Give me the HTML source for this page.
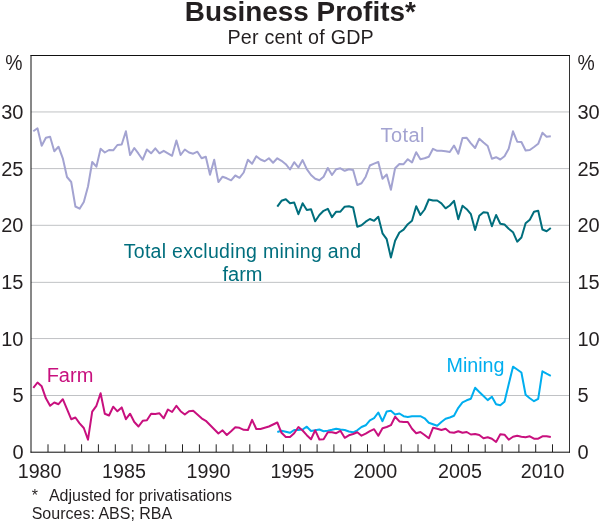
<!DOCTYPE html>
<html><head><meta charset="utf-8"><title>Business Profits</title>
<style>
html,body{margin:0;padding:0;background:#fff}
svg{display:block;font-family:"Liberation Sans",sans-serif}
</style></head><body>
<svg width="600" height="524" viewBox="0 0 600 524">
<rect width="600" height="524" fill="#fff"/>
<g stroke="#c0c2c5" stroke-width="1" fill="none"><line x1="31" x2="569.5" y1="395.5" y2="395.5"/><line x1="31" x2="569.5" y1="338.55" y2="338.55"/><line x1="31" x2="569.5" y1="282.35" y2="282.35"/><line x1="31" x2="569.5" y1="225.3" y2="225.3"/><line x1="31" x2="569.5" y1="168.6" y2="168.6"/><line x1="31" x2="569.5" y1="111.95" y2="111.95"/></g>
<g fill="none" stroke-linejoin="round" stroke-linecap="butt" stroke-width="2">
<path stroke="#a3a3d1" d="M33.3,131.3 L37.5,128.3 L41.7,145.8 L45.9,137.8 L50.1,136.7 L54.3,151.2 L58.5,146.7 L62.8,158.3 L67.0,177.0 L71.2,182.0 L75.4,206.5 L79.6,208.7 L83.8,202.0 L88.0,186.5 L92.2,162.0 L96.4,166.7 L100.6,148.7 L104.8,152.5 L109.0,150.0 L113.2,150.3 L117.4,145.0 L121.7,144.5 L125.9,131.3 L130.1,155.0 L134.3,148.0 L138.5,153.7 L142.7,159.7 L146.9,149.5 L151.1,153.3 L155.3,148.3 L159.5,153.3 L163.7,150.8 L167.9,153.3 L172.1,155.8 L176.4,140.5 L180.6,155.0 L184.8,149.5 L189.0,152.5 L193.2,153.7 L197.4,151.7 L201.6,158.3 L205.8,156.7 L210.0,174.8 L214.2,159.7 L218.4,182.1 L222.6,176.7 L226.8,178.3 L231.1,180.3 L235.3,175.5 L239.5,177.8 L243.7,172.5 L247.9,159.7 L252.1,163.8 L256.3,156.2 L260.5,159.5 L264.7,161.2 L268.9,158.3 L273.1,162.8 L277.3,158.3 L281.5,160.8 L285.8,164.2 L290.0,169.5 L294.2,162.2 L298.4,167.5 L302.6,160.1 L306.8,169.2 L311.0,175.0 L315.2,178.8 L319.4,180.3 L323.6,176.7 L327.8,168.0 L332.0,175.0 L336.2,169.2 L340.4,168.3 L344.7,170.8 L348.9,169.2 L353.1,170.0 L357.3,185.0 L361.5,183.3 L365.7,176.7 L369.9,165.5 L374.1,163.7 L378.3,162.0 L382.5,178.7 L386.7,174.5 L390.9,189.7 L395.1,168.2 L399.4,164.0 L403.6,164.2 L407.8,159.2 L412.0,162.5 L416.2,152.2 L420.4,159.2 L424.6,158.3 L428.8,156.7 L433.0,148.8 L437.2,150.8 L441.4,150.8 L445.6,151.3 L449.8,152.0 L454.0,145.5 L458.3,153.8 L462.5,138.0 L466.7,137.8 L470.9,143.3 L475.1,148.0 L479.3,138.7 L483.5,142.5 L487.7,146.0 L491.9,158.8 L496.1,157.2 L500.3,159.5 L504.5,156.3 L508.7,148.7 L513.0,131.3 L517.2,141.7 L521.4,142.0 L525.6,150.5 L529.8,150.0 L534.0,147.0 L538.2,143.8 L542.4,132.8 L546.6,136.7 L550.8,136.2"/>
<path stroke="#006e7d" d="M277.3,206.7 L281.5,200.8 L285.8,199.2 L290.0,203.3 L294.2,202.5 L298.4,214.2 L302.6,203.3 L306.8,210.0 L311.0,209.2 L315.2,221.3 L319.4,215.0 L323.6,210.8 L327.8,208.8 L332.0,217.2 L336.2,211.7 L340.4,211.7 L344.7,206.7 L348.9,206.2 L353.1,207.5 L357.3,226.7 L361.5,225.2 L365.7,221.7 L369.9,219.0 L374.1,220.8 L378.3,216.7 L382.5,233.3 L386.7,239.2 L390.9,257.5 L395.1,240.8 L399.4,232.5 L403.6,229.7 L407.8,224.2 L412.0,220.8 L416.2,206.3 L420.4,215.0 L424.6,209.5 L428.8,199.5 L433.0,200.5 L437.2,200.5 L441.4,203.3 L445.6,208.3 L449.8,205.5 L454.0,200.8 L458.3,219.2 L462.5,205.8 L466.7,209.2 L470.9,214.2 L475.1,230.0 L479.3,215.8 L483.5,212.2 L487.7,212.8 L491.9,226.2 L496.1,215.0 L500.3,223.8 L504.5,224.5 L508.7,228.7 L513.0,232.2 L517.2,241.7 L521.4,237.5 L525.6,223.3 L529.8,219.7 L534.0,211.7 L538.2,210.8 L542.4,229.5 L546.6,231.2 L550.8,228.0"/>
<path stroke="#00aeef" d="M277.3,432.0 L281.5,430.7 L285.8,431.7 L290.0,432.8 L294.2,430.0 L298.4,430.0 L302.6,429.5 L306.8,426.7 L311.0,431.0 L315.2,430.3 L319.4,429.5 L323.6,431.2 L327.8,430.7 L332.0,429.8 L336.2,428.7 L340.4,429.5 L344.7,430.0 L348.9,431.5 L353.1,432.3 L357.3,430.3 L361.5,427.0 L365.7,425.3 L369.9,420.3 L374.1,418.2 L378.3,412.5 L382.5,421.2 L386.7,411.5 L390.9,410.8 L395.1,414.5 L399.4,413.5 L403.6,416.2 L407.8,417.0 L412.0,416.2 L416.2,416.2 L420.4,416.2 L424.6,418.3 L428.8,422.8 L433.0,424.2 L437.2,425.8 L441.4,422.0 L445.6,418.7 L449.8,417.5 L454.0,415.8 L458.3,407.8 L462.5,402.3 L466.7,400.3 L470.9,398.7 L475.1,387.8 L479.3,392.0 L483.5,396.0 L487.7,400.1 L491.9,396.7 L496.1,404.2 L500.3,405.3 L504.5,401.7 L508.7,384.2 L513.0,366.7 L517.2,369.5 L521.4,372.5 L525.6,394.7 L529.8,398.3 L534.0,401.2 L538.2,398.8 L542.4,371.3 L546.6,373.7 L550.8,375.8"/>
<path stroke="#c8107e" d="M33.3,387.8 L37.5,382.5 L41.7,386.3 L45.9,398.3 L50.1,405.8 L54.3,402.5 L58.5,404.2 L62.8,399.2 L67.0,409.2 L71.2,419.2 L75.4,417.5 L79.6,423.3 L83.8,428.0 L88.0,439.7 L92.2,411.7 L96.4,405.8 L100.6,393.3 L104.8,413.8 L109.0,415.5 L113.2,406.7 L117.4,411.3 L121.7,407.4 L125.9,419.2 L130.1,413.7 L134.3,422.0 L138.5,426.5 L142.7,420.8 L146.9,420.3 L151.1,413.7 L155.3,414.0 L159.5,413.3 L163.7,418.3 L167.9,409.5 L172.1,412.0 L176.4,405.8 L180.6,411.2 L184.8,414.5 L189.0,411.2 L193.2,410.8 L197.4,414.5 L201.6,418.3 L205.8,420.8 L210.0,425.0 L214.2,429.2 L218.4,433.5 L222.6,430.3 L226.8,435.0 L231.1,431.2 L235.3,427.3 L239.5,427.8 L243.7,429.8 L247.9,430.0 L252.1,419.8 L256.3,429.0 L260.5,429.0 L264.7,427.8 L268.9,426.5 L273.1,424.5 L277.3,422.5 L281.5,432.8 L285.8,437.0 L290.0,437.0 L294.2,433.2 L298.4,427.0 L302.6,430.5 L306.8,435.2 L311.0,439.2 L315.2,430.3 L319.4,439.5 L323.6,439.2 L327.8,432.3 L332.0,432.3 L336.2,433.2 L340.4,430.8 L344.7,437.8 L348.9,435.3 L353.1,434.0 L357.3,432.3 L361.5,435.7 L365.7,433.7 L369.9,431.2 L374.1,429.2 L378.3,435.8 L382.5,428.2 L386.7,427.0 L390.9,425.2 L395.1,416.7 L399.4,421.4 L403.6,422.0 L407.8,422.0 L412.0,428.7 L416.2,433.2 L420.4,432.0 L424.6,435.0 L428.8,438.3 L433.0,427.8 L437.2,428.7 L441.4,430.0 L445.6,428.7 L449.8,432.3 L454.0,432.8 L458.3,431.2 L462.5,432.8 L466.7,432.0 L470.9,434.5 L475.1,434.0 L479.3,435.0 L483.5,438.3 L487.7,437.2 L491.9,438.7 L496.1,442.0 L500.3,434.2 L504.5,434.7 L508.7,439.7 L513.0,436.7 L517.2,435.8 L521.4,436.7 L525.6,437.2 L529.8,436.3 L534.0,438.7 L538.2,438.7 L542.4,436.3 L546.6,436.2 L550.8,437.0"/>
</g>
<g stroke="#222" stroke-width="1" fill="none"><line x1="48.0" x2="48.0" y1="444.3" y2="452"/><line x1="64.8" x2="64.8" y1="444.3" y2="452"/><line x1="81.6" x2="81.6" y1="444.3" y2="452"/><line x1="98.4" x2="98.4" y1="444.3" y2="452"/><line x1="115.3" x2="115.3" y1="444.3" y2="452"/><line x1="132.1" x2="132.1" y1="444.3" y2="452"/><line x1="148.9" x2="148.9" y1="444.3" y2="452"/><line x1="165.7" x2="165.7" y1="444.3" y2="452"/><line x1="182.5" x2="182.5" y1="444.3" y2="452"/><line x1="199.4" x2="199.4" y1="444.3" y2="452"/><line x1="216.2" x2="216.2" y1="444.3" y2="452"/><line x1="233.0" x2="233.0" y1="444.3" y2="452"/><line x1="249.8" x2="249.8" y1="444.3" y2="452"/><line x1="266.6" x2="266.6" y1="444.3" y2="452"/><line x1="283.4" x2="283.4" y1="444.3" y2="452"/><line x1="300.3" x2="300.3" y1="444.3" y2="452"/><line x1="317.1" x2="317.1" y1="444.3" y2="452"/><line x1="333.9" x2="333.9" y1="444.3" y2="452"/><line x1="350.7" x2="350.7" y1="444.3" y2="452"/><line x1="367.5" x2="367.5" y1="444.3" y2="452"/><line x1="384.3" x2="384.3" y1="444.3" y2="452"/><line x1="401.2" x2="401.2" y1="444.3" y2="452"/><line x1="418.0" x2="418.0" y1="444.3" y2="452"/><line x1="434.8" x2="434.8" y1="444.3" y2="452"/><line x1="451.6" x2="451.6" y1="444.3" y2="452"/><line x1="468.4" x2="468.4" y1="444.3" y2="452"/><line x1="485.2" x2="485.2" y1="444.3" y2="452"/><line x1="502.1" x2="502.1" y1="444.3" y2="452"/><line x1="518.9" x2="518.9" y1="444.3" y2="452"/><line x1="535.7" x2="535.7" y1="444.3" y2="452"/><line x1="552.5" x2="552.5" y1="444.3" y2="452"/></g>
<line x1="31" x2="31" y1="55" y2="452.5" stroke="#111" stroke-width="1"/>
<line x1="569.5" x2="569.5" y1="55" y2="452.5" stroke="#333" stroke-width="1"/>
<line x1="30.6" x2="570" y1="55.5" y2="55.5" stroke="#111" stroke-width="1"/>
<line x1="30.5" x2="570" y1="452.2" y2="452.2" stroke="#0a0a0a" stroke-width="1"/>
<g font-size="20" fill="#231f20">
<text x="23.5" y="458.9" text-anchor="end">0</text><text x="23.5" y="402.3" text-anchor="end">5</text><text x="23.5" y="345.6" text-anchor="end">10</text><text x="23.5" y="288.9" text-anchor="end">15</text><text x="23.5" y="232.2" text-anchor="end">20</text><text x="23.5" y="175.6" text-anchor="end">25</text><text x="23.5" y="118.9" text-anchor="end">30</text><text x="577.5" y="458.9">0</text><text x="577.5" y="402.3">5</text><text x="577.5" y="345.6">10</text><text x="577.5" y="288.9">15</text><text x="577.5" y="232.2">20</text><text x="577.5" y="175.6">25</text><text x="577.5" y="118.9">30</text><text x="39.6" y="478.3" text-anchor="middle" font-size="19.7">1980</text><text x="124.0" y="478.3" text-anchor="middle" font-size="19.7">1985</text><text x="208.5" y="478.3" text-anchor="middle" font-size="19.7">1990</text><text x="292.3" y="478.3" text-anchor="middle" font-size="19.7">1995</text><text x="375.4" y="478.3" text-anchor="middle" font-size="19.7">2000</text><text x="460.0" y="478.3" text-anchor="middle" font-size="19.7">2005</text><text x="542.6" y="478.3" text-anchor="middle" font-size="19.7">2010</text>
<text transform="translate(13.9,69.7) scale(1,1.12)" text-anchor="middle" font-size="19.4">%</text>
<text transform="translate(586,69.7) scale(1,1.12)" text-anchor="middle" font-size="19.4">%</text>
</g>
<text x="300.35" y="20.5" text-anchor="middle" font-size="27.9" font-weight="bold" fill="#231f20">Business Profits*</text>
<text x="300.7" y="43.7" text-anchor="middle" font-size="19.7" letter-spacing="0.21" fill="#231f20">Per cent of GDP</text>
<g font-size="20">
<text x="402.7" y="142" text-anchor="middle" letter-spacing="0.4" fill="#a3a3d1">Total</text>
<text x="123.7" y="257.9" font-size="19.5" letter-spacing="0.3" fill="#006e7d">Total excluding mining and</text>
<text x="242.5" y="280.8" text-anchor="middle" fill="#006e7d">farm</text>
<text x="70" y="381.7" text-anchor="middle" fill="#c8107e">Farm</text>
<text x="475.5" y="372" text-anchor="middle" font-size="19.7" fill="#00aeef">Mining</text>
</g>
<g font-size="16" fill="#231f20">
<text x="31.8" y="501.4">*</text>
<text x="48.9" y="501.4">Adjusted for privatisations</text>
<text x="31.7" y="518.6">Sources: ABS; RBA</text>
</g>
</svg>
</body></html>
